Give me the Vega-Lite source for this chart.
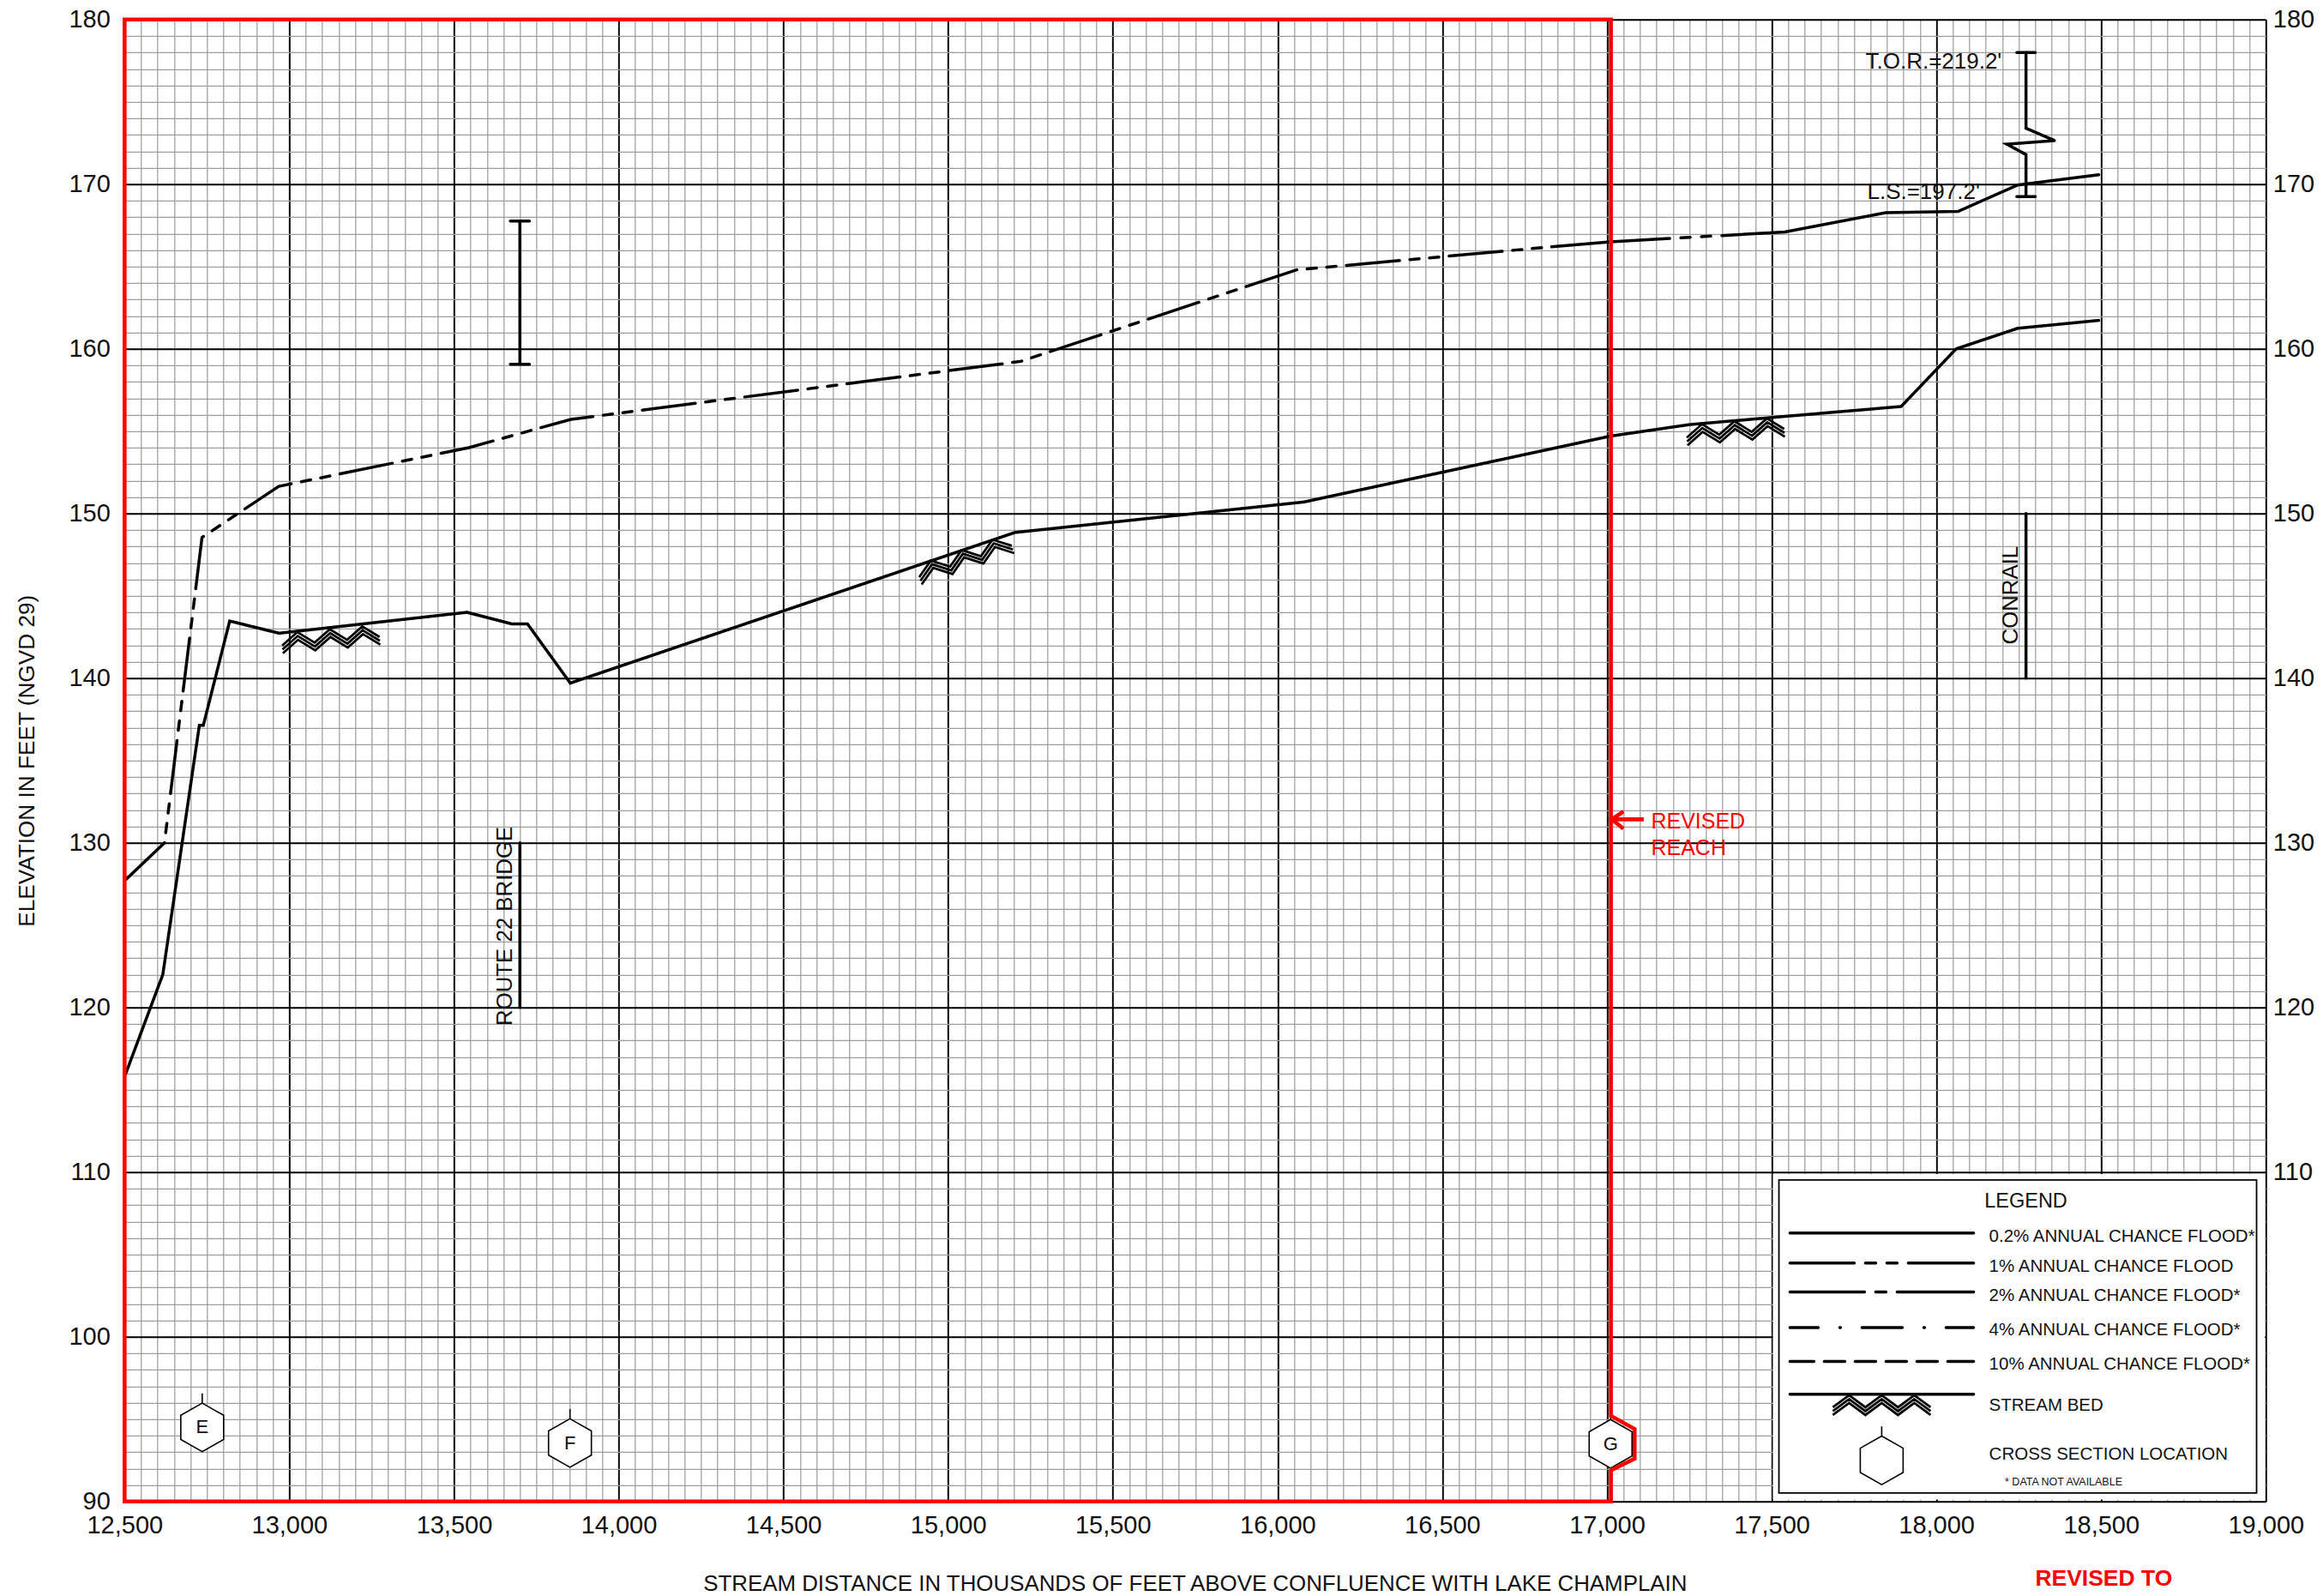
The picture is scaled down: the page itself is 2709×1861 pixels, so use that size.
{
"$schema":"https://vega.github.io/schema/vega-lite/v6.json",
"background":"white",
"autosize":"none",
"width":2497,"height":1728,
"padding":{"left":145.3,"top":22.8,"right":67,"bottom":110},
"config":{"view":{"stroke":null},"font":"Liberation Sans"},
"resolve":{"axis":{"x":"independent","y":"independent"}},
"encoding":{
 "x":{"field":"x","type":"quantitative","scale":{"domain":[12500,19000],"nice":false,"zero":false},"axis":null},
 "y":{"field":"y","type":"quantitative","scale":{"domain":[90,180],"nice":false,"zero":false},"axis":null}
},
"layer":[
{"data":{"values":[{"x":12500,"y":90}]},"mark":{"type":"point","opacity":0},
 "encoding":{
  "x":{"field":"x","type":"quantitative","axis":{"orient":"bottom","tickCount":130,"labels":false,"ticks":false,"domain":false,"title":null,"grid":true,"gridColor":"#9e9e9e","gridWidth":1.25}},
  "y":{"field":"y","type":"quantitative","axis":{"orient":"left","tickCount":90,"labels":false,"ticks":false,"domain":false,"title":null,"grid":true,"gridColor":"#9e9e9e","gridWidth":1.25}}
 }},
{"data":{"values":[{"x":12500,"y":90}]},"mark":{"type":"point","opacity":0},
 "encoding":{
  "x":{"field":"x","type":"quantitative","axis":{"orient":"bottom","values":[12500,13000,13500,14000,14500,15000,15500,16000,16500,17000,17500,18000,18500,19000],"format":",d","labelFont":"Liberation Sans","labelFontSize":29,"labelColor":"#111111","labelPadding":14,"labelOverlap":false,"labelFlush":false,"labelBound":false,"ticks":false,"domain":false,"grid":true,"gridColor":"#000000","gridWidth":1.9,
   "title":"STREAM DISTANCE IN THOUSANDS OF FEET ABOVE CONFLUENCE WITH LAKE CHAMPLAIN","titleFont":"Liberation Sans","titleFontSize":25.9,"titleFontWeight":"normal","titleColor":"#111111","titleX":1248,"titleY":104,"titleBaseline":"alphabetic"}},
  "y":{"field":"y","type":"quantitative","axis":{"orient":"left","values":[90,100,110,120,130,140,150,160,170,180],"labelFont":"Liberation Sans","labelFontSize":29,"labelColor":"#111111","labelPadding":17,"labelOverlap":false,"labelFlush":false,"labelBound":false,"ticks":false,"domain":false,"grid":true,"gridColor":"#000000","gridWidth":1.9,
   "title":"ELEVATION IN FEET (NGVD 29)","titleFont":"Liberation Sans","titleFontSize":26.2,"titleFontWeight":"normal","titleColor":"#111111","titleX":-106,"titleY":864,"titleAngle":270,"titleBaseline":"alphabetic"}}
 }},
{"data":{"values":[{"x":12500,"y":90}]},"mark":{"type":"point","opacity":0},
 "encoding":{
  "y":{"field":"y","type":"quantitative","axis":{"orient":"right","values":[110,120,130,140,150,160,170,180],"labelFont":"Liberation Sans","labelFontSize":29,"labelColor":"#111111","labelPadding":8,"labelOverlap":false,"labelFlush":false,"labelBound":false,"ticks":false,"domain":false,"grid":false,"title":null}}
 }},
{"data":{"values":[{"x":17504,"x2":18997,"y":90.12,"y2":109.88}]},"mark":{"type":"rect","fill":"white","stroke":null},
 "encoding":{"x2":{"field":"x2"},"y2":{"field":"y2"}}},
{"data":{"values":[{"x":17522,"x2":18972,"y":90.52,"y2":109.53}]},"mark":{"type":"rect","fill":"white","stroke":"#000000","strokeWidth":1.8},
 "encoding":{"x2":{"field":"x2"},"y2":{"field":"y2"}}},
{"data":{"values":[
 {"x":12500,"y":127.7,"g":"top0","s":"solid","i":1},{"x":12621,"y":130.0,"g":"top0","s":"solid","i":2},
 {"x":12621,"y":130.0,"g":"top1","s":"a","i":2},{"x":12735,"y":148.55,"g":"top1","s":"a","i":3},{"x":12968,"y":151.65,"g":"top1","s":"a","i":4},{"x":13545,"y":154.0,"g":"top1","s":"a","i":5},{"x":13855,"y":155.72,"g":"top1","s":"a","i":6},{"x":15220,"y":159.24,"g":"top1","s":"a","i":7},{"x":16058,"y":164.8,"g":"top1","s":"a","i":8},{"x":16832,"y":166.2,"g":"top1","s":"a","i":9},
 {"x":16832,"y":166.2,"g":"top2","s":"b","i":1},{"x":17010,"y":166.5,"g":"top2","s":"b","i":2},{"x":17540,"y":167.1,"g":"top2","s":"b","i":3},{"x":17846,"y":168.27,"g":"top2","s":"b","i":4},{"x":18066,"y":168.35,"g":"top2","s":"b","i":5},{"x":18247,"y":169.95,"g":"top2","s":"b","i":6},{"x":18493,"y":170.57,"g":"top2","s":"b","i":7},
 {"x":12500,"y":115.8,"g":"bed","s":"solid","i":1},{"x":12616,"y":122.0,"g":"bed","s":"solid","i":2},{"x":12727,"y":137.14,"g":"bed","s":"solid","i":3},{"x":12739,"y":137.14,"g":"bed","s":"solid","i":4},{"x":12819,"y":143.47,"g":"bed","s":"solid","i":5},{"x":12969,"y":142.73,"g":"bed","s":"solid","i":6},{"x":13539,"y":144.0,"g":"bed","s":"solid","i":7},{"x":13674,"y":143.3,"g":"bed","s":"solid","i":8},{"x":13723,"y":143.3,"g":"bed","s":"solid","i":9},{"x":13853,"y":139.7,"g":"bed","s":"solid","i":10},{"x":15203,"y":148.85,"g":"bed","s":"solid","i":11},{"x":16080,"y":150.7,"g":"bed","s":"solid","i":12},{"x":17010,"y":154.7,"g":"bed","s":"solid","i":13},{"x":17250,"y":155.4,"g":"bed","s":"solid","i":14},{"x":17540,"y":155.9,"g":"bed","s":"solid","i":15},{"x":17893,"y":156.5,"g":"bed","s":"solid","i":16},{"x":18060,"y":160.0,"g":"bed","s":"solid","i":17},{"x":18247,"y":161.25,"g":"bed","s":"solid","i":18},{"x":18493,"y":161.73,"g":"bed","s":"solid","i":19},
 {"x":18272,"y":178.0,"g":"tor","s":"solid","i":1},{"x":18272,"y":173.4,"g":"tor","s":"solid","i":2},{"x":18359,"y":172.65,"g":"tor","s":"solid","i":3},{"x":18214,"y":172.43,"g":"tor","s":"solid","i":4},{"x":18272,"y":171.8,"g":"tor","s":"solid","i":5},{"x":18272,"y":169.25,"g":"tor","s":"solid","i":6},
 {"x":18244,"y":178.0,"g":"torcap1","s":"solid","i":1},{"x":18300,"y":178.0,"g":"torcap1","s":"solid","i":2},
 {"x":18244,"y":169.25,"g":"torcap2","s":"solid","i":1},{"x":18300,"y":169.25,"g":"torcap2","s":"solid","i":2},
 {"x":13700,"y":167.76,"g":"br","s":"solid","i":1},{"x":13700,"y":159.06,"g":"br","s":"solid","i":2},
 {"x":13671,"y":167.76,"g":"brcap1","s":"solid","i":1},{"x":13729,"y":167.76,"g":"brcap1","s":"solid","i":2},
 {"x":13671,"y":159.06,"g":"brcap2","s":"solid","i":1},{"x":13729,"y":159.06,"g":"brcap2","s":"solid","i":2},
 {"x":13700,"y":130,"g":"route22","s":"solid","i":1},{"x":13700,"y":120,"g":"route22","s":"solid","i":2},
 {"x":18272,"y":150,"g":"conrail","s":"solid","i":1},{"x":18272,"y":140,"g":"conrail","s":"solid","i":2},
 {"x":17555.5,"y":106.3,"g":"lg02","s":"solid","i":1},{"x":18113,"y":106.3,"g":"lg02","s":"solid","i":2},
 {"x":17555.5,"y":104.48,"g":"lg1","s":"p1","i":1},{"x":18113,"y":104.48,"g":"lg1","s":"p1","i":2},
 {"x":17555.5,"y":102.73,"g":"lg2","s":"p2","i":1},{"x":18113,"y":102.73,"g":"lg2","s":"p2","i":2},
 {"x":17555.5,"y":100.56,"g":"lg4","s":"p4","i":1},{"x":18113,"y":100.56,"g":"lg4","s":"p4","i":2},
 {"x":17555.5,"y":98.5,"g":"lg10","s":"p10","i":1},{"x":18113,"y":98.5,"g":"lg10","s":"p10","i":2},
 {"x":17555.5,"y":96.51,"g":"lgbed","s":"solid","i":1},{"x":18113,"y":96.51,"g":"lgbed","s":"solid","i":2}
 ]},
 "mark":{"type":"line","color":"#000000","strokeWidth":3.5,"strokeCap":"round","strokeJoin":"miter"},
 "encoding":{
  "detail":{"field":"g"},
  "order":{"field":"i","type":"quantitative"},
  "strokeDash":{"field":"s","type":"nominal","legend":null,"scale":{"domain":["solid","a","b","p1","p2","p4","p10"],"range":[[1,0],[0,12,11,12,11,12,62.3,0],[138,13,11,13,11,13,3000,0],[75,13,12,13,12,13,75,0],[87,13,12,13,87,0],[33,25,1,25,47,25,1,25,34,0],[28,12,24,12,24,12,24,12,24,12,28,0]]}}
 }},
{"data":{"values":[{"x":15041,"y":147.78}]},"mark":{"type":"point","shape":"M-57,14L-38,0L-19,14L0,0L19,14L38,0L57,14M-57,18.5L-38,4.5L-19,18.5L0,4.5L19,18.5L38,4.5L57,18.5M-57,23L-38,9L-19,23L0,9L19,23L38,9L57,23","size":4,"filled":false,"stroke":"#000000","strokeWidth":2.7,"strokeJoin":"miter","opacity":1,"angle":-18.7}},
{"data":{"values":[{"x":13123,"y":142.97}]},"mark":{"type":"point","shape":"M-57,14L-38,0L-19,14L0,0L19,14L38,0L57,14M-57,18.5L-38,4.5L-19,18.5L0,4.5L19,18.5L38,4.5L57,18.5M-57,23L-38,9L-19,23L0,9L19,23L38,9L57,23","size":4,"filled":false,"stroke":"#000000","strokeWidth":2.7,"strokeJoin":"miter","opacity":1,"angle":-5}},
{"data":{"values":[{"x":17387,"y":155.6}]},"mark":{"type":"point","shape":"M-57,14L-38,0L-19,14L0,0L19,14L38,0L57,14M-57,18.5L-38,4.5L-19,18.5L0,4.5L19,18.5L38,4.5L57,18.5M-57,23L-38,9L-19,23L0,9L19,23L38,9L57,23","size":4,"filled":false,"stroke":"#000000","strokeWidth":2.7,"strokeJoin":"miter","opacity":1,"angle":-5}},
{"data":{"values":[{"x":17834,"y":96.45}]},"mark":{"type":"point","shape":"M-57,14L-38,0L-19,14L0,0L19,14L38,0L57,14M-57,18.5L-38,4.5L-19,18.5L0,4.5L19,18.5L38,4.5L57,18.5M-57,23L-38,9L-19,23L0,9L19,23L38,9L57,23","size":4,"filled":false,"stroke":"#000000","strokeWidth":2.7,"strokeJoin":"miter","opacity":1}},
{"data":{"values":[{"x":12735.6,"y":94.5},{"x":13852,"y":93.55},{"x":17011,"y":93.5},{"x":17834,"y":92.5}]},
 "mark":{"type":"point","shape":"M0,-1.4L0,-1L0.883,-0.5L0.883,0.5L0,1L-0.883,0.5L-0.883,-0.5L0,-1Z","size":3200,"filled":true,"fill":"white","stroke":"#000000","strokeWidth":1.6,"opacity":1}},
{"data":{"values":[{"x":12735.6,"y":94.5,"t":"E"},{"x":13852,"y":93.55,"t":"F"},{"x":17011,"y":93.5,"t":"G"}]},
 "mark":{"type":"text","font":"Liberation Sans","fontSize":22,"color":"#111111","align":"center","baseline":"middle"},
 "encoding":{"text":{"field":"t"}}},
{"data":{"values":[
 {"x":12500,"y":180,"g":"frame","i":1},{"x":17012,"y":180,"g":"frame","i":2},{"x":17012,"y":95.2,"g":"frame","i":3},{"x":17084,"y":94.4,"g":"frame","i":4},{"x":17084,"y":92.6,"g":"frame","i":5},{"x":17012,"y":91.9,"g":"frame","i":6},{"x":17012,"y":90,"g":"frame","i":7},{"x":12500,"y":90,"g":"frame","i":8},{"x":12500,"y":180,"g":"frame","i":9},
 {"x":17105.6,"y":131.43,"g":"arrow","i":1},{"x":17014.6,"y":131.43,"g":"arrow","i":2},
 {"x":17045,"y":131.84,"g":"head","i":1},{"x":17014.6,"y":131.43,"g":"head","i":2},{"x":17045,"y":130.94,"g":"head","i":3}
 ]},
 "mark":{"type":"line","color":"#ff0000","strokeWidth":4.6,"strokeCap":"square","strokeJoin":"miter"},
 "encoding":{"detail":{"field":"g"},"order":{"field":"i","type":"quantitative"}}},
{"data":{"values":[{"x":17785,"y":177.0,"t":"T.O.R.=219.2'"},{"x":17790,"y":169.13,"t":"L.S.=197.2'"}]},
 "mark":{"type":"text","font":"Liberation Sans","fontSize":26,"color":"#111111","align":"left","baseline":"alphabetic"},
 "encoding":{"text":{"field":"t"}}},
{"data":{"values":[{"x":13675,"y":118.9,"t":"ROUTE 22 BRIDGE"},{"x":18246,"y":142.05,"t":"CONRAIL"}]},
 "mark":{"type":"text","font":"Liberation Sans","fontSize":25.8,"color":"#111111","align":"left","baseline":"alphabetic","angle":270},
 "encoding":{"text":{"field":"t"}}},
{"data":{"values":[{"x":18146,"y":107.86,"t":"LEGEND"}]},
 "mark":{"type":"text","font":"Liberation Sans","fontSize":23.5,"color":"#111111","align":"left","baseline":"alphabetic"},
 "encoding":{"text":{"field":"t"}}},
{"data":{"values":[
 {"x":18160,"y":105.78,"t":"0.2% ANNUAL CHANCE FLOOD*"},{"x":18160,"y":103.97,"t":"1% ANNUAL CHANCE FLOOD"},{"x":18160,"y":102.2,"t":"2% ANNUAL CHANCE FLOOD*"},{"x":18160,"y":100.07,"t":"4% ANNUAL CHANCE FLOOD*"},{"x":18160,"y":98.01,"t":"10% ANNUAL CHANCE FLOOD*"},{"x":18160,"y":95.52,"t":"STREAM BED"},{"x":18160,"y":92.52,"t":"CROSS SECTION LOCATION"}]},
 "mark":{"type":"text","font":"Liberation Sans","fontSize":20.5,"color":"#111111","align":"left","baseline":"alphabetic"},
 "encoding":{"text":{"field":"t"}}},
{"data":{"values":[{"x":18208,"y":90.99,"t":"* DATA NOT AVAILABLE"}]},
 "mark":{"type":"text","font":"Liberation Sans","fontSize":12.5,"color":"#111111","align":"left","baseline":"alphabetic"},
 "encoding":{"text":{"field":"t"}}},
{"data":{"values":[{"x":17134,"y":130.86,"t":"REVISED"},{"x":17134,"y":129.24,"t":"REACH"}]},
 "mark":{"type":"text","font":"Liberation Sans","fontSize":25,"color":"#ff0000","align":"left","baseline":"alphabetic"},
 "encoding":{"text":{"field":"t"}}},
{"data":{"values":[{"x":18300,"y":84.9,"t":"REVISED TO"}]},
 "mark":{"type":"text","font":"Liberation Sans","fontWeight":"bold","fontSize":26.5,"color":"#ff0000","align":"left","baseline":"alphabetic"},
 "encoding":{"text":{"field":"t"}}}
]
}
